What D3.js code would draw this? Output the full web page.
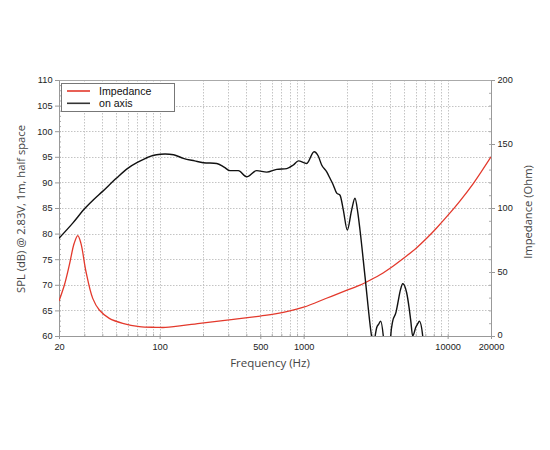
<!DOCTYPE html>
<html>
<head>
<meta charset="utf-8">
<script src="https://cdn.jsdelivr.net/npm/d3@7"></script>
<style>
  body { margin: 0; background: #fff; }
  svg { display: block; }
</style>
</head>
<body>
<div id="chart"></div>
<script>
// on axis SPL (dB); values below 60 are clipped away
const splFreq = [20, 25, 30, 35, 40, 50, 60, 70, 80, 86, 95, 109, 125, 146, 175, 201, 249, 280, 308, 352, 402, 472, 554, 650, 763, 848, 918, 1050, 1182, 1260, 1334, 1450, 1524, 1600, 1697, 1789, 1886, 2010, 2150, 2273, 2380, 2462, 2668, 2960, 3050, 3150, 3214, 3320, 3428, 3574, 3750, 3900, 4024, 4154, 4376, 4500, 4700, 4876, 5196, 5400, 5538, 5718, 6026, 6200, 6357, 6712, 7000]
const spl = [79.1, 82.1, 84.8, 86.7, 88.2, 90.8, 92.75, 93.9, 94.7, 95.1, 95.4, 95.55, 95.4, 94.7, 94.2, 93.85, 93.7, 93.0, 92.3, 92.3, 91.1, 92.3, 92.0, 92.55, 92.7, 93.4, 94.2, 93.7, 96.0, 95.2, 93.4, 92.0, 90.8, 89.6, 87.9, 87.5, 84.6, 80.7, 84.5, 86.9, 84.0, 80.7, 71.6, 60.0, 57.8, 60.3, 61.6, 62.3, 62.9, 60.0, 52, 52, 60.0, 62.9, 64.6, 66.3, 69.0, 70.2, 68.4, 65.5, 63.1, 60.0, 61.8, 62.4, 62.9, 60.0, 50]

// impedance (Ohm)
const impFreq = [20, 21.8, 23.6, 25.5, 27.0, 28.4, 30.8, 34.3, 38.1, 44.7, 55.4, 72.2, 94.3, 110, 190, 325, 500, 634, 1000, 1440, 2000, 2462, 2668, 3392, 4170, 4870, 6100, 7150, 8380, 10100, 12200, 15100, 20000]
const impedance = [27.3, 39.8, 55.5, 72.4, 78.4, 72.4, 50.2, 29.4, 20.3, 13.8, 9.9, 7.3, 6.8, 6.7, 9.9, 13.0, 15.6, 17.2, 22.5, 29.5, 35.8, 39.8, 41.6, 47.8, 54.5, 60.2, 69.0, 76.3, 84.4, 94.6, 105.6, 119.3, 140]

const xTicks = [20, 100, 500, 1000, 10000, 20000]
const splTicks = [60, 65, 70, 75, 80, 85, 90, 95, 100, 105, 110]
const impTicks = [0, 50, 100, 150, 200]

const width = 550
const height = 450
const margin = ({ top: 80, right: 59, bottom: 114, left: 59 })
const tickFont = "'Liberation Sans', Arial, sans-serif"
const titleFont = "'Open Sans', 'Noto Sans', sans-serif"

const svg = d3.select("#chart").append("svg")
  .attr("width", width)
  .attr("height", height)

const x = d3.scaleLog()
  .domain([20, 20000])
  .range([margin.left, width - margin.right])

const yL = d3.scaleLinear()
  .domain([60, 110])
  .range([height - margin.bottom, margin.top])

const yR = d3.scaleLinear()
  .domain([0, 200])
  .range([height - margin.bottom, margin.top])

const plotL = margin.left, plotR = width - margin.right
const plotT = margin.top, plotB = height - margin.bottom

// grid positions: every 1..9 step inside each decade
const gridFreq = []
for (const dec of [10, 100, 1000, 10000]) {
  for (let k = 1; k <= 9; k++) {
    const f = dec * k
    if (f > 20 && f < 20000) gridFreq.push(f)
  }
}

const grid = svg.append("g")
  .attr("stroke", "#c4c4c4")
  .attr("stroke-width", 1)
  .attr("stroke-dasharray", "1.5,1.5")

grid.selectAll(".vg").data(gridFreq).join("line")
  .attr("class", "vg")
  .attr("x1", d => Math.round(x(d)) + 0.5).attr("x2", d => Math.round(x(d)) + 0.5)
  .attr("y1", plotT).attr("y2", plotB)

grid.selectAll(".hg").data(splTicks.slice(1, -1)).join("line")
  .attr("class", "hg")
  .attr("x1", plotL).attr("x2", plotR)
  .attr("y1", d => Math.round(yL(d)) + 0.5).attr("y2", d => Math.round(yL(d)) + 0.5)

// frame top edge
svg.append("line")
  .attr("x1", plotL).attr("x2", plotR)
  .attr("y1", plotT + 0.5).attr("y2", plotT + 0.5)
  .attr("stroke", "#aaa")

const styleAxis = g => {
  g.select(".domain").attr("stroke", "#999")
  g.selectAll(".tick line").attr("stroke", "#999")
  g.selectAll(".tick text")
    .attr("fill", "#222")
    .attr("font-family", tickFont)
    .attr("font-size", 9.2)
}

// minor ticks
svg.append("g")
  .attr("transform", `translate(${plotL},0)`)
  .call(d3.axisLeft(yL).tickValues(d3.range(60, 111, 1)).tickSize(-2).tickFormat(""))
  .call(g => g.select(".domain").remove())
  .call(g => g.selectAll(".tick line").attr("stroke", "#aaa"))

svg.append("g")
  .attr("transform", `translate(${plotR},0)`)
  .call(d3.axisRight(yR).tickValues(d3.range(0, 201, 10)).tickSize(-2).tickFormat(""))
  .call(g => g.select(".domain").remove())
  .call(g => g.selectAll(".tick line").attr("stroke", "#aaa"))

svg.append("g")
  .attr("transform", `translate(0,${plotB})`)
  .call(d3.axisBottom(x).tickValues(gridFreq).tickSize(-2).tickFormat(""))
  .call(g => g.select(".domain").remove())
  .call(g => g.selectAll(".tick line").attr("stroke", "#aaa"))

// main axes
svg.append("g")
  .attr("transform", `translate(0,${plotB})`)
  .call(d3.axisBottom(x).tickValues(xTicks).tickFormat(d3.format("d")).tickSize(3).tickPadding(4).tickSizeOuter(0))
  .call(styleAxis)

svg.append("g")
  .attr("transform", `translate(${plotL},0)`)
  .call(d3.axisLeft(yL).tickValues(splTicks).tickSize(4).tickPadding(2.5).tickSizeOuter(0))
  .call(styleAxis)

svg.append("g")
  .attr("transform", `translate(${plotR},0)`)
  .call(d3.axisRight(yR).tickValues(impTicks).tickSize(4).tickPadding(2.5).tickSizeOuter(0))
  .call(styleAxis)
  .call(g => g.select(".tick:first-of-type text").attr("dy", "0.2em"))

// curves
svg.append("clipPath").attr("id", "plot-clip")
  .append("rect")
  .attr("x", plotL).attr("y", plotT)
  .attr("width", plotR - plotL).attr("height", plotB - plotT)

const lineImp = d3.line()
  .x((d, i) => x(impFreq[i]))
  .y(d => yR(d))
  .curve(d3.curveCatmullRom.alpha(0.5))

const lineSpl = d3.line()
  .x((d, i) => x(splFreq[i]))
  .y(d => yL(d))
  .curve(d3.curveMonotoneX)

const plot = svg.append("g").attr("clip-path", "url(#plot-clip)")

plot.append("path")
  .datum(impedance)
  .attr("fill", "none")
  .attr("stroke", "#e3392c")
  .attr("stroke-width", 1.3)
  .attr("stroke-linejoin", "round")
  .attr("d", lineImp)

plot.append("path")
  .datum(spl)
  .attr("fill", "none")
  .attr("stroke", "#111")
  .attr("stroke-width", 1.4)
  .attr("stroke-linejoin", "round")
  .attr("d", lineSpl)

// legend
const legend = svg.append("g").attr("transform", "translate(61,83)")
legend.append("rect")
  .attr("x", 0.5).attr("y", 0.5)
  .attr("width", 113).attr("height", 28)
  .attr("fill", "#fff")
  .attr("stroke", "#777")

const legendItems = [["Impedance", "#e3392c"], ["on axis", "#333"]]
legendItems.forEach(([label, color], i) => {
  const yy = 8 + i * 12.3
  legend.append("line")
    .attr("x1", 6).attr("x2", 29)
    .attr("y1", yy).attr("y2", yy)
    .attr("stroke", color)
    .attr("stroke-width", 1.6)
  legend.append("text")
    .attr("x", 38).attr("y", yy + 4)
    .attr("font-family", tickFont)
    .attr("font-size", 10.6)
    .attr("fill", "#111")
    .text(label)
})

// axis titles
svg.append("text")
  .attr("x", 270).attr("y", 367)
  .attr("text-anchor", "middle")
  .attr("font-family", titleFont)
  .attr("font-size", 11.5)
  .attr("fill", "#444")
  .text("Frequency (Hz)")

svg.append("text")
  .attr("transform", `translate(25,${(plotT + plotB) / 2 + 1}) rotate(-90)`)
  .attr("text-anchor", "middle")
  .attr("font-family", titleFont)
  .attr("font-size", 11.2)
  .attr("fill", "#444")
  .text("SPL (dB) @ 2.83V, 1m, half space")

svg.append("text")
  .attr("transform", `translate(532,${(plotT + plotB) / 2 + 4}) rotate(-90)`)
  .attr("text-anchor", "middle")
  .attr("font-family", titleFont)
  .attr("font-size", 11.2)
  .attr("fill", "#444")
  .text("Impedance (Ohm)")
</script>
</body>
</html>
